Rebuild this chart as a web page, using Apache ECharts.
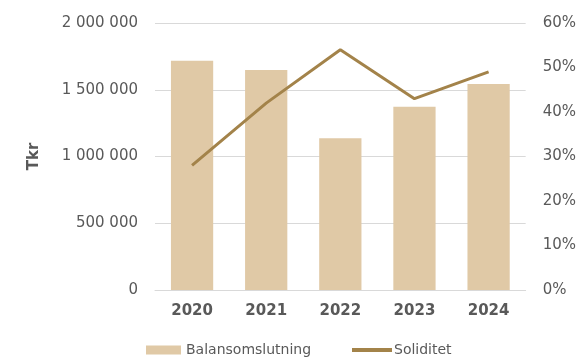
<!DOCTYPE html>
<html><head><meta charset="utf-8">
<script src="https://cdn.jsdelivr.net/npm/echarts@6/dist/echarts.min.js"></script>
<style>html,body{margin:0;padding:0;background:#fff}#c{width:579px;height:357px}</style>
</head><body><div id="c"></div>
<script>
const categories = ['2020', '2021', '2022', '2023', '2024'];
const balansomslutning = [1717000, 1648000, 1136000, 1373000, 1543000];
const soliditet = [28, 42, 54, 43, 49];
const leftTicks = [0, 500000, 1000000, 1500000, 2000000];
const rightTicks = [0, 10, 20, 30, 40, 50, 60];

const FONT = 'DejaVu Sans';
const GREY = '#595959';
const fmt = v => String(v).replace(/\B(?=(\d{3})+(?!\d))/g, ' ');

const chart = echarts.init(document.getElementById('c'), null, {renderer: 'canvas'});
chart.setOption({
  animation: false,
  textStyle: {fontFamily: FONT},
  grid: {left: 155, right: 50, top: 23, bottom: 67, containLabel: false},
  legend: [
    {data: [{name: 'Balansomslutning', icon: 'rect'}], left: 141, top: 338, itemWidth: 35, itemHeight: 9,
     textStyle: {fontFamily: FONT, fontSize: 14, color: GREY}},
    {data: [{name: 'Soliditet', icon: 'rect'}], left: 347, top: 338, itemWidth: 40, itemHeight: 4,
     textStyle: {fontFamily: FONT, fontSize: 14, color: GREY, padding: [0,0,0,-3]}}
  ],
  xAxis: {type: 'category', data: categories,
    axisLine: {show: true, lineStyle: {color: '#d9d9d9', width: 1}},
    axisTick: {show: false},
    axisLabel: {fontFamily: FONT, fontSize: 15, fontWeight: 'bold', color: GREY, margin: 14}},
  yAxis: [
    {type: 'value', min: 0, max: 2000000, interval: 500000,
     name: 'Tkr', nameLocation: 'middle', nameGap: 113, nameRotate: 90,
     nameTextStyle: {fontFamily: FONT, fontSize: 15, fontWeight: 'bold', color: GREY},
     axisLabel: {fontFamily: FONT, fontSize: 15, color: GREY, margin: 17, formatter: v => fmt(v)},
     splitLine: {lineStyle: {color: '#d9d9d9', width: 1}},
     axisLine: {show: false}, axisTick: {show: false}},
    {type: 'value', min: 0, max: 60, interval: 10, position: 'right',
     axisLabel: {fontFamily: FONT, fontSize: 15, color: GREY, margin: 17, formatter: v => v + '%'},
     splitLine: {show: false}, axisLine: {show: false}, axisTick: {show: false}}
  ],
  series: [
    {name: 'Balansomslutning', type: 'bar', data: balansomslutning, barWidth: '57%',
     itemStyle: {color: '#e0c9a6'}},
    {name: 'Soliditet', type: 'line', yAxisIndex: 1, data: soliditet, symbol: 'none',
     lineStyle: {color: '#a3834a', width: 3}, itemStyle: {color: '#a3834a'}}
  ]
});
</script></body></html>
